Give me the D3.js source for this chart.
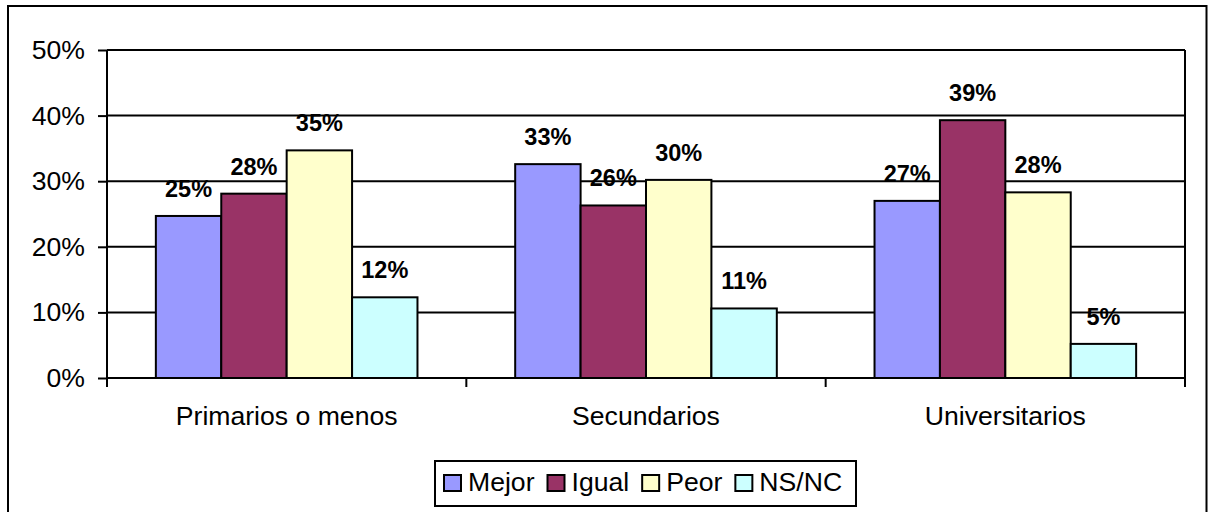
<!DOCTYPE html>
<html>
<head>
<meta charset="utf-8">
<script src="https://cdn.jsdelivr.net/npm/d3@7"></script>
<style>
  html, body { margin: 0; padding: 0; background: #fff; }
  svg { display: block; font-family: "Liberation Sans", Arial, sans-serif; }
</style>
</head>
<body>
<svg id="chart" width="1212" height="512"></svg>
<script>
const categories = ["Primarios o menos", "Secundarios", "Universitarios"];
const seriesNames = ["Mejor", "Igual", "Peor", "NS/NC"];
const seriesColors = ["#9999FF", "#993366", "#FFFFCC", "#CCFFFF"];
const mejor = [0.247, 0.326, 0.270];
const igual = [0.281, 0.263, 0.393];
const peor  = [0.347, 0.302, 0.283];
const nsnc  = [0.123, 0.106, 0.052];
const yTicks = [0, 0.1, 0.2, 0.3, 0.4, 0.5];

const seriesValues = [mejor, igual, peor, nsnc];

const svg = d3.select("#chart");
const W = 1212, H = 512;
const plot = { left: 107, right: 1185, top: 50, bottom: 378 };
const FS = 26.6;

svg.append("rect").attr("width", W).attr("height", H).attr("fill", "#fff");

// outer chart border
svg.append("rect")
  .attr("x", 8).attr("y", 6).attr("width", 1198.5).attr("height", 540)
  .attr("fill", "none").attr("stroke", "#000").attr("stroke-width", 2);

const y = d3.scaleLinear().domain([0, 0.5]).range([plot.bottom, plot.top]);
const x0 = d3.scaleBand().domain(categories).range([plot.left, plot.right]).padding(0);
const x1 = d3.scaleBand().domain(seriesNames).range([0, x0.bandwidth()])
  .paddingInner(0).paddingOuter(0.747);
const color = d3.scaleOrdinal().domain(seriesNames).range(seriesColors);

// gridlines
svg.append("g").selectAll("line").data(yTicks.filter(d => d > 0)).join("line")
  .attr("x1", plot.left).attr("x2", plot.right)
  .attr("y1", d => y(d)).attr("y2", d => y(d))
  .attr("stroke", "#000").attr("stroke-width", 2);

// right border of plot area
svg.append("line")
  .attr("x1", plot.right).attr("x2", plot.right)
  .attr("y1", plot.top).attr("y2", plot.bottom + 9)
  .attr("stroke", "#000").attr("stroke-width", 2);

// bars
const rows = [];
categories.forEach((c, i) => {
  seriesNames.forEach((s, j) => rows.push({ cat: c, series: s, value: seriesValues[j][i] }));
});

svg.append("g").selectAll("rect").data(rows).join("rect")
  .attr("x", d => x0(d.cat) + x1(d.series))
  .attr("y", d => y(d.value))
  .attr("width", x1.bandwidth())
  .attr("height", d => y(0) - y(d.value))
  .attr("fill", d => color(d.series))
  .attr("stroke", "#000").attr("stroke-width", 2);

// data labels
svg.append("g").selectAll("text").data(rows).join("text")
  .attr("x", d => x0(d.cat) + x1(d.series) + x1.bandwidth() / 2)
  .attr("y", d => y(d.value) - 19)
  .attr("text-anchor", "middle")
  .attr("font-size", 23.5).attr("font-weight", "bold").attr("fill", "#000")
  .text(d => d3.format(".0%")(d.value));

// y axis
const yAxis = svg.append("g").attr("transform", `translate(${plot.left},0)`)
  .call(d3.axisLeft(y).tickValues(yTicks).tickFormat(d3.format(".0%"))
    .tickSize(9).tickSizeOuter(0).tickPadding(13));
yAxis.select(".domain").remove();
yAxis.selectAll(".tick line").attr("stroke", "#000").attr("stroke-width", 2);
yAxis.selectAll(".tick text").attr("font-size", FS).attr("fill", "#000")
  .attr("font-family", "Liberation Sans, Arial, sans-serif");
svg.append("line")
  .attr("x1", plot.left).attr("x2", plot.left)
  .attr("y1", plot.top).attr("y2", plot.bottom + 9)
  .attr("stroke", "#000").attr("stroke-width", 2);

// x axis
const xAxis = svg.append("g").attr("transform", `translate(0,${plot.bottom})`)
  .call(d3.axisBottom(x0).tickSize(0).tickPadding(28));
xAxis.select(".domain").remove();
xAxis.selectAll(".tick text").attr("font-size", FS).attr("fill", "#000")
  .attr("font-family", "Liberation Sans, Arial, sans-serif");
svg.append("line")
  .attr("x1", plot.left).attr("x2", plot.right)
  .attr("y1", plot.bottom).attr("y2", plot.bottom)
  .attr("stroke", "#000").attr("stroke-width", 2);
const bounds = categories.map(c => x0(c)).concat([x0(categories[categories.length - 1]) + x0.bandwidth()]);
svg.append("g").selectAll("line").data(bounds).join("line")
  .attr("x1", d => d).attr("x2", d => d)
  .attr("y1", plot.bottom).attr("y2", plot.bottom + 9)
  .attr("stroke", "#000").attr("stroke-width", 2);

// legend
const legend = svg.append("g");
legend.append("rect")
  .attr("x", 435).attr("y", 461).attr("width", 421).attr("height", 45)
  .attr("fill", "#fff").attr("stroke", "#000").attr("stroke-width", 2);
let lx = 444;
seriesNames.forEach((s, i) => {
  legend.append("rect")
    .attr("x", lx).attr("y", 475).attr("width", 17).attr("height", 16)
    .attr("fill", color(s)).attr("stroke", "#000").attr("stroke-width", 2);
  const t = legend.append("text")
    .attr("x", lx + 24).attr("y", 491)
    .attr("font-size", FS).attr("fill", "#000")
    .text(s);
  lx = lx + 24 + t.node().getComputedTextLength() + 13;
});
</script>
</body>
</html>
